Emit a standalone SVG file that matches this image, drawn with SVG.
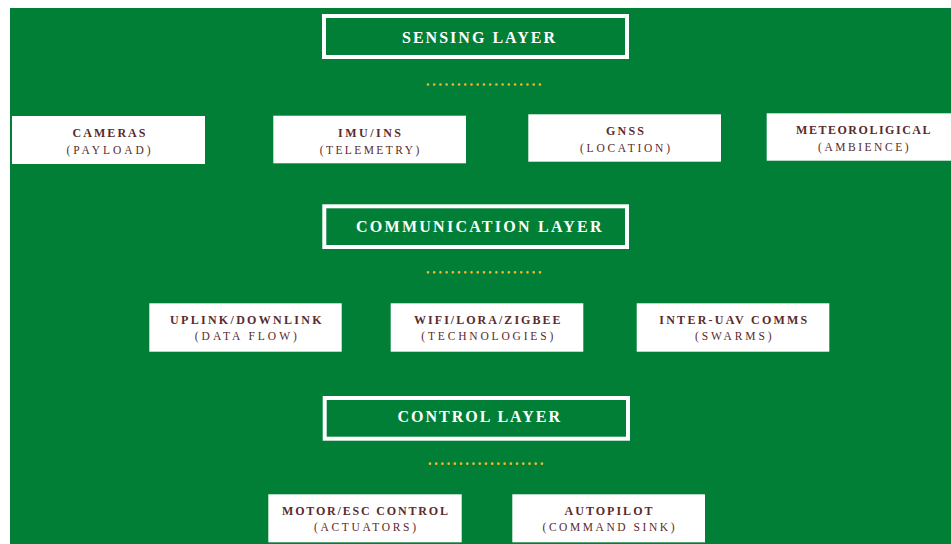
<svg xmlns="http://www.w3.org/2000/svg" width="951" height="544" viewBox="0 0 951 544">
<style>
.bg{fill:#017f37}
.layer rect{fill:none;stroke:#ffffff;stroke-width:4}
.layer text{font-family:"Liberation Serif","DejaVu Serif",serif;font-weight:bold;font-size:16px;fill:#ffffff;text-anchor:middle}
.node rect{fill:#ffffff}
.node text{font-family:"Liberation Serif","DejaVu Serif",serif;font-size:11.5px;fill:#5a2a2c;text-anchor:middle}
.node .t{font-weight:bold;font-size:12px}
.dots line{stroke:#f4b42f;stroke-width:2.7;stroke-linecap:round;stroke-dasharray:0 6.22}
</style>
<rect class="bg" x="10" y="8" width="941" height="536"/>

<g id="sensing-layer" class="layer">
<rect x="324" y="16" width="303" height="41"/>
<text x="478.5" y="42.7" textLength="153" lengthAdjust="spacing">SENSING LAYER</text>
</g>
<g id="communication-layer" class="layer">
<rect x="324.3" y="206.3" width="302.7" height="40.7"/>
<text x="478.8" y="232.3" textLength="245.5" lengthAdjust="spacing">COMMUNICATION LAYER</text>
</g>
<g id="control-layer" class="layer">
<rect x="324.7" y="398" width="303.3" height="40.7"/>
<text x="478.7" y="422.3" textLength="162.5" lengthAdjust="spacing">CONTROL LAYER</text>
</g>

<g id="connectors" class="dots">
<line x1="428" y1="84.5" x2="540" y2="84.5"/>
<line x1="428" y1="272.3" x2="540" y2="272.3"/>
<line x1="430" y1="463.7" x2="542" y2="463.7"/>
</g>

<g id="cameras" class="node">
<rect x="12" y="116" width="193" height="48"/>
<text class="t" x="109" y="137" textLength="73" lengthAdjust="spacing">CAMERAS</text>
<text x="108.5" y="154" textLength="84" lengthAdjust="spacing">(PAYLOAD)</text>
</g>
<g id="imu-ins" class="node">
<rect x="273.3" y="115.7" width="192.7" height="47.6"/>
<text class="t" x="369.5" y="137" textLength="63" lengthAdjust="spacing">IMU/INS</text>
<text x="369.5" y="154" textLength="99.5" lengthAdjust="spacing">(TELEMETRY)</text>
</g>
<g id="gnss" class="node">
<rect x="528.3" y="114.3" width="192.7" height="47.4"/>
<text class="t" x="625" y="134.7" textLength="38" lengthAdjust="spacing">GNSS</text>
<text x="625" y="151.7" textLength="90" lengthAdjust="spacing">(LOCATION)</text>
</g>
<g id="meteoroligical" class="node">
<rect x="766.7" y="113.3" width="193" height="47.4"/>
<text class="t" x="863.3" y="134" textLength="134.5" lengthAdjust="spacing">METEOROLIGICAL</text>
<text x="863.3" y="150.5" textLength="90.5" lengthAdjust="spacing">(AMBIENCE)</text>
</g>

<g id="uplink-downlink" class="node">
<rect x="149.3" y="303.3" width="192.4" height="48.4"/>
<text class="t" x="245.8" y="324" textLength="151.5" lengthAdjust="spacing">UPLINK/DOWNLINK</text>
<text x="245.8" y="339.5" textLength="102" lengthAdjust="spacing">(DATA FLOW)</text>
</g>
<g id="wifi-lora-zigbee" class="node">
<rect x="390.7" y="303.3" width="192.6" height="48.4"/>
<text class="t" x="487.3" y="324" textLength="146.5" lengthAdjust="spacing">WIFI/LORA/ZIGBEE</text>
<text x="487.3" y="339.5" textLength="132" lengthAdjust="spacing">(TECHNOLOGIES)</text>
</g>
<g id="inter-uav-comms" class="node">
<rect x="636.7" y="303.3" width="192.6" height="48.4"/>
<text class="t" x="733.3" y="324" textLength="148" lengthAdjust="spacing">INTER-UAV COMMS</text>
<text x="733.3" y="339.5" textLength="76.5" lengthAdjust="spacing">(SWARMS)</text>
</g>

<g id="motor-esc-control" class="node">
<rect x="268.3" y="494.3" width="193.4" height="48"/>
<text class="t" x="365" y="514.7" textLength="166" lengthAdjust="spacing">MOTOR/ESC CONTROL</text>
<text x="365" y="530.7" textLength="102" lengthAdjust="spacing">(ACTUATORS)</text>
</g>
<g id="autopilot" class="node">
<rect x="512.3" y="494.3" width="192.7" height="48"/>
<text class="t" x="608.5" y="514.7" textLength="88" lengthAdjust="spacing">AUTOPILOT</text>
<text x="608.5" y="530.7" textLength="132" lengthAdjust="spacing">(COMMAND SINK)</text>
</g>
</svg>
